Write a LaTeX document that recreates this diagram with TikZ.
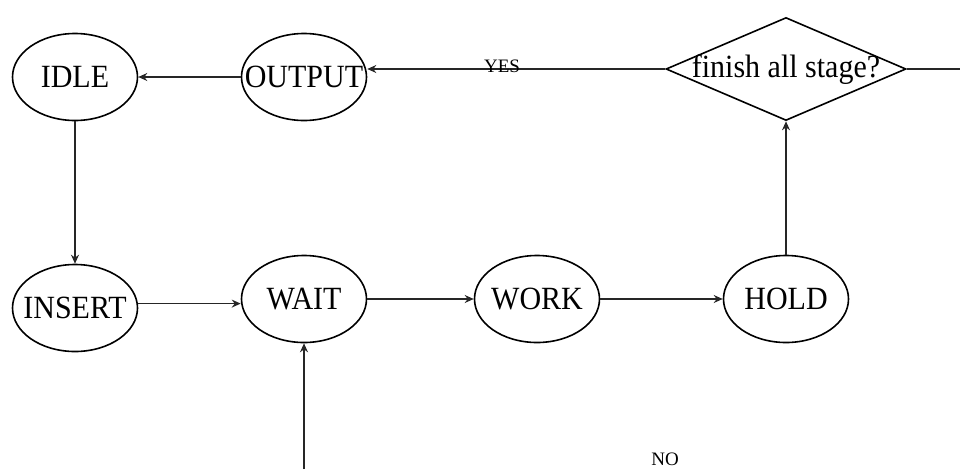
\documentclass[tikz,border=0pt]{standalone}
\usepackage{fontspec}
\setmainfont{Liberation Serif}
\usetikzlibrary{shapes.geometric,arrows.meta}

% a slightly tall label of zero width, so that the ellipse keeps its set size
\newcommand\statename[1]{\makebox[0pt]{\scalebox{1}[1.08]{#1}}}

\tikzset{
  state/.style={ellipse, draw=black, line width=1.6pt, minimum width=125pt,
    minimum height=87pt, inner sep=0pt, font=\fontsize{30}{36}\selectfont},
  decision/.style={diamond, draw=black, line width=1.6pt, minimum width=240pt,
    minimum height=103pt, inner sep=0pt, aspect=2.33},
  bigtext/.style={inner sep=0pt, font=\fontsize{30}{36}\selectfont},
  smalltext/.style={inner sep=0pt, anchor=base, font=\fontsize{19}{22}\selectfont},
  link/.style={draw=black!85, line width=1.4pt},
  arrowlink/.style={link, -{Stealth[length=9pt,width=8pt,inset=3pt]}}
}

\begin{document}
\begin{tikzpicture}[x=1pt, y=-1pt]
  \useasboundingbox (0,0) rectangle (960,469);

  % states of the machine
  \node[state] (idle)   at (75,77)    {\statename{IDLE}};
  \node[state] (output) at (304,77)   {\statename{OUTPUT}};
  \node[state] (insert) at (75,308)   {\statename{INSERT}};
  \node[state] (wait)   at (304,299)  {\statename{WAIT}};
  \node[state] (work)   at (537,299)  {\statename{WORK}};
  \node[state] (hold)   at (786,299)  {\statename{HOLD}};

  % decision step
  \node[decision] (dec) at (786,69) {};
  \node[bigtext] (dectext) at (786,70) {\scalebox{1}[1.08]{finish all stage?}};

  % loose ends of the NO branch
  \coordinate (rightend)  at (960,69);
  \coordinate (bottomend) at (304,469);

  % transitions
  \draw[arrowlink] (idle) -- (insert);
  \draw[arrowlink] (insert.4.6) -- (insert.4.6 -| wait.west);
  \draw[arrowlink] (wait) -- (work);
  \draw[arrowlink] (work) -- (hold);
  \draw[arrowlink] (hold) -- (dec.south);
  \draw[arrowlink] (dec.west) -- (dec.west -| output.east);
  \draw[arrowlink] (output) -- (idle);
  \draw[link] (dec.east) -- (rightend);
  \draw[arrowlink] (bottomend) -- (wait.south);

  % branch labels
  \node[smalltext] (yes) at (502,72) {YES};
  \node[smalltext] (no)  at (665,465) {NO};
\end{tikzpicture}
\end{document}
